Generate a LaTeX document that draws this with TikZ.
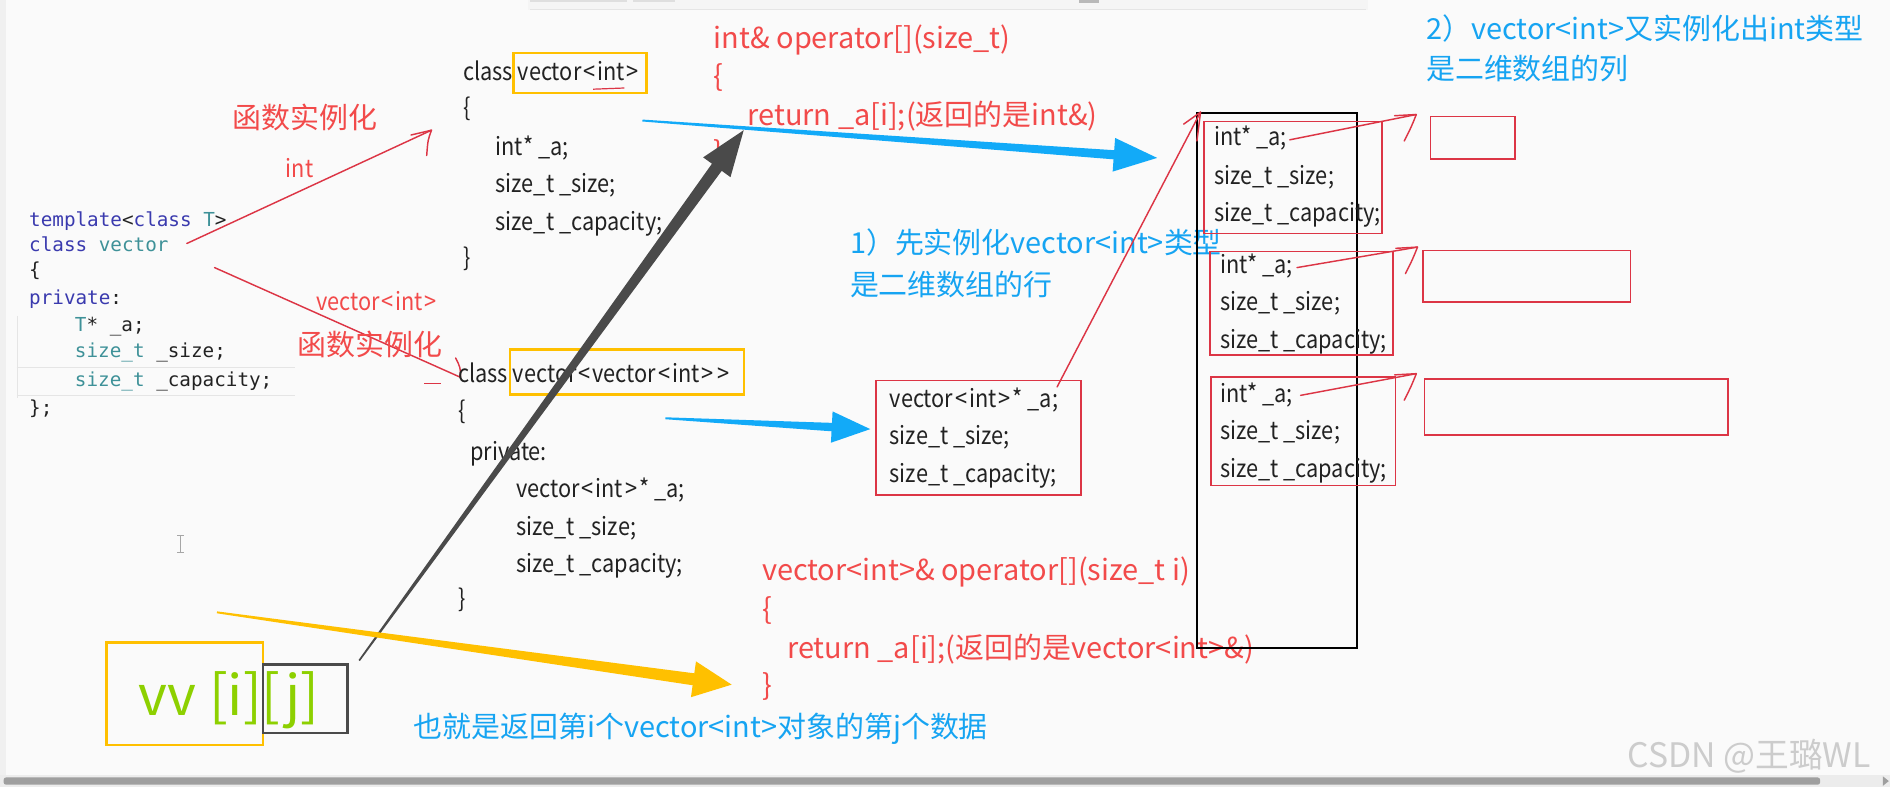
\documentclass[tikz,border=0pt]{standalone}
\usepackage{fontspec}
\setmainfont{Noto Sans CJK SC}
\newfontfamily\monof{DejaVu Sans Mono}
\newfontfamily\condf[FakeStretch=0.88]{Noto Sans CJK SC}
\usetikzlibrary{calc}
\definecolor{bgc}{HTML}{FAFAFA}
\definecolor{redt}{HTML}{F24A4A}
\definecolor{redl}{HTML}{DC3545}
\definecolor{bluet}{HTML}{16A4F2}
\definecolor{bluea}{HTML}{12AAF8}
\definecolor{yel}{HTML}{FFC000}
\definecolor{grn}{HTML}{8DD000}
\definecolor{dgray}{HTML}{4A4A4A}
\definecolor{kw}{HTML}{3A3AAE}
\definecolor{ty}{HTML}{3E9198}
\definecolor{codet}{HTML}{222222}
\newcommand\fcode{\condf\fontsize{20.5}{24}\selectfont}
\newcommand\fred{\fontsize{24}{28}\selectfont}
\newcommand\fmono{\monof\fontsize{16}{20}\selectfont}
\newcommand\lt{\kern1.6pt<\kern1.6pt}
\newcommand\gt{\kern1.6pt>\kern1.6pt}
\newcommand\taperarrow[7]{%
  \coordinate (tmpH) at ($(#2)!#7!(#1)$);
  \fill[#3] ($(#1)!#4!90:(#2)$) -- ($(tmpH)!#5!90:(#2)$) -- ($(tmpH)!#6!90:(#2)$) -- (#2)
    -- ($(tmpH)!#6!-90:(#2)$) -- ($(tmpH)!#5!-90:(#2)$) -- ($(#1)!#4!-90:(#2)$) -- cycle;}
\tikzset{
  tx/.style={inner sep=0pt, anchor=base west},
  code/.style={tx, text=codet, font=\fcode},
  redtxt/.style={tx, text=redt, font=\fred},
  bluetxt/.style={tx, text=bluet, font=\fred},
  mono/.style={tx, font=\fmono},
  rbox/.style={draw=redl, line width=1.4pt, anchor=north west, inner sep=0pt},
  ybox/.style={draw=yel, line width=2.2pt, anchor=north west, inner sep=0pt},
  rline/.style={draw=redl, line width=1.2pt, line cap=round, line join=round},
}
\begin{document}
\begin{tikzpicture}[x=1pt,y=-1pt]
\useasboundingbox (0,0) rectangle (1568,653);
\fill[bgc] (0,0) rectangle (1568,653);
% window chrome
\fill[gray!12] (0,0) rectangle (5,645);
\fill[gray!8] (438,0) rectangle (1135,8);
\draw[gray!20, line width=1pt] (440,8) -- (1133,8);
\fill[gray!25] (440,0) rectangle (520,2);
\fill[gray!25] (525,0) rectangle (560,2);
\fill[gray!55] (895,0) rectangle (912,2.5);
\fill[gray!15] (0,643) rectangle (1568,653);
\fill[gray!75, rounded corners=2pt] (3,645) rectangle (1510,651);
\fill[gray!75] (1562,644) -- (1567,648) -- (1562,652) -- cycle;

% ---------- left template code ----------
\draw[gray!20, line width=0.6pt] (14,305) -- (245,305) (14,328) -- (245,328) (14,262) -- (14,330);
\node[mono] (m1) at (24,188) {\textcolor{kw}{template}\textcolor{codet}{<}\textcolor{kw}{class}\ \textcolor{ty}{T}\textcolor{codet}{>}};
\node[mono] (m2) at (24,209) {\textcolor{kw}{class} \textcolor{ty}{vector}};
\node[mono, text=codet] (m3) at (24,229) {\{};
\node[mono, text=kw] (m4) at (24,253) {private\textcolor{codet}{:}};
\node[mono] (m5) at (62,275) {\textcolor{ty}{T}\textcolor{codet}{* \_a;}};
\node[mono] (m6) at (62,297) {\textcolor{ty}{size\_t} \textcolor{codet}{\_size;}};
\node[mono] (m7) at (62,321) {\textcolor{ty}{size\_t} \textcolor{codet}{\_capacity;}};
\node[mono, text=codet] (m8) at (24,344) {\};};
\coordinate (tplA) at (155,202);
\coordinate (tplB) at (178,222);

% ---------- red instantiation arrows ----------
\coordinate (c1tip) at (358,108);
\coordinate (c2tip) at (382,313);
\draw[rline] (tplA) -- (c1tip);
\draw[rline] ($(c1tip)+(-17,4)$) -- (c1tip) .. controls ($(c1tip)+(-3,8)$) .. ($(c1tip)+(-4,21)$);
\draw[rline] (tplB) -- (c2tip);
\draw[rline] ($(c2tip)+(-4,-16)$) .. controls ($(c2tip)+(0,-8)$) .. (c2tip);
\draw[redl, line width=1.2pt] (352,318) -- (366,318);
\node[redtxt] (lbl1) at (193,107) {函数实例化};
\node[tx, text=redt, font=\fcode] (lint) at (237,147) {int};
\node[tx, text=redt, font=\fcode] (lvec) at (262,258) {vector\lt int\gt};
\node[redtxt] (lbl2) at (247,295) {函数实例化};

% ---------- class vector<int> ----------
\node[code] (a1) at (384,67) {class vector\lt int\gt};
\node[ybox, minimum width=110pt, minimum height=33pt] (yb1) at (425,43) {};
\draw[redl, line width=1pt] (492,74) -- (518,73);
\node[code] (a2) at (384,97) {\{};
\node[code] (a3) at (411,129) {int* \_a;};
\node[code] (a4) at (411,160) {size\_t \_size;};
\node[code] (a5) at (411,191) {size\_t \_capacity;};
\node[code] (a6) at (384,221) {\}};

% ---------- class vector<vector<int>> ----------
\node[code] (b1) at (380,317) {class vector\lt vector\lt int\gt\gt};
\node[ybox, minimum width=194pt, minimum height=37pt] (yb2) at (422,289) {};
\node[code] (b2) at (380,348) {\{};
\node[code] (b3) at (390,382) {private:};
\node[code] (b4) at (428,413) {vector\lt int\gt* \_a;};
\node[code] (b5) at (428,444) {size\_t \_size;};
\node[code] (b6) at (428,475) {size\_t \_capacity;};
\node[code] (b7) at (380,504) {\}};

% ---------- red operator texts ----------
\node[redtxt] (o1) at (592,40) {int\& operator[](size\_t)};
\node[redtxt] (o2) at (592,72) {\{};
\node[redtxt] (o3) at (620,104) {return \_a[i];(返回的是int\&)};
\node[redtxt] (o4) at (592,135) {\}};

\node[redtxt] (p1) at (632,482) {vector<int>\& operator[](size\_t i)};
\node[redtxt] (p2) at (632,514) {\{};
\node[redtxt] (p3) at (653,546) {return \_a[i];(返回的是vector<int>\&)};
\node[redtxt] (p4) at (632,577) {\}};

% ---------- blue notes ----------
\node[bluetxt] (n1) at (705,210) {1）先实例化vector<int>类型};
\node[bluetxt] (n2) at (705,245) {是二维数组的行};
\node[bluetxt] (n3) at (1183,33) {2）vector<int>又实例化出int类型};
\node[bluetxt] (n4) at (1183,66) {是二维数组的列};
\node[bluetxt] (n5) at (343,612) {也就是返回第i个vector<int>对象的第j个数据};

% ---------- vector<int>* box ----------
\node[rbox, minimum width=170pt, minimum height=95pt] (vbox) at (726,315) {};
\node[code] (v1) at (738,338) {vector\lt int\gt* \_a;};
\node[code] (v2) at (738,369) {size\_t \_size;};
\node[code] (v3) at (738,400) {size\_t \_capacity;};

% ---------- big column and rows ----------
\node[draw=black, line width=1.6pt, anchor=north west, inner sep=0pt, minimum width=133pt, minimum height=444pt] (big) at (992,93) {};
\node[rbox, minimum width=148pt, minimum height=93pt] (r1) at (998,100) {};
\node[rbox, minimum width=152pt, minimum height=86pt] (r2) at (1003,208) {};
\node[rbox, minimum width=153pt, minimum height=90pt] (r3) at (1004,312) {};
\node[code] (r1a) at (1007,121) {int* \_a;};
\node[code] (r1b) at (1007,153) {size\_t \_size;};
\node[code] (r1c) at (1007,184) {size\_t \_capacity;};
\node[code] (r2a) at (1012,227) {int* \_a;};
\node[code] (r2b) at (1012,258) {size\_t \_size;};
\node[code] (r2c) at (1012,289) {size\_t \_capacity;};
\node[code] (r3a) at (1012,334) {int* \_a;};
\node[code] (r3b) at (1012,365) {size\_t \_size;};
\node[code] (r3c) at (1012,396) {size\_t \_capacity;};

% column boxes
\node[rbox, minimum width=70pt, minimum height=35pt] (s1) at (1186,96) {};
\node[rbox, minimum width=172pt, minimum height=43pt] (s2) at (1180,207) {};
\node[rbox, minimum width=252pt, minimum height=46pt] (s3) at (1181,314) {};

% red pointer lines
\coordinate (vA) at (877,321);
\coordinate (bigtip) at (996,93);
\draw[rline] (vA) -- (bigtip);
\draw[rline] ($(bigtip)+(-14,10)$) -- (bigtip) -- ($(bigtip)+(-3,24)$);
\coordinate (q1) at (1070,116);
\coordinate (q1t) at (1175,95);
\coordinate (q2) at (1076,222);
\coordinate (q2t) at (1176,205);
\coordinate (q3) at (1079,328);
\coordinate (q3t) at (1175,310);
\foreach \a/\b in {q1/q1t,q2/q2t,q3/q3t}{
  \draw[rline] (\a) -- (\b);
  \draw[rline] ($(\b)+(-18,1)$) -- (\b) .. controls ($(\b)+(-4,10)$) .. ($(\b)+(-10,22)$);
}

% ---------- vv [i][j] ----------
\node[ybox, minimum width=130pt, minimum height=85pt] (vvbox) at (87,532) {};
\node[draw=dgray, line width=2.2pt, anchor=north west, inner sep=0pt, minimum width=70pt, minimum height=57pt] (jbox) at (217,550) {};
\node[tx, text=grn, font=\fontsize{46}{50}\selectfont] (vv) at (115,594) {vv [i][j]};

% ---------- big tapered arrows ----------
\coordinate (dA) at (298,548);
\coordinate (dB) at (617,108);
\taperarrow{dA}{dB}{dgray}{0.7pt}{5pt}{14pt}{38pt}
\coordinate (bA) at (533,100);
\coordinate (bB) at (960,131);
\taperarrow{bA}{bB}{bluea}{0.8pt}{3.8pt}{14pt}{36pt}
\coordinate (cA) at (552,347);
\coordinate (cB) at (722,356);
\taperarrow{cA}{cB}{bluea}{0.8pt}{3.5pt}{13pt}{32pt}
\coordinate (yA) at (180,508);
\coordinate (yB) at (607,568);
\taperarrow{yA}{yB}{yel}{0.8pt}{5pt}{15pt}{32pt}

% cursor
\draw[gray!70, line width=0.8pt] (150,444) -- (150,458) (147,444) -- (153,444) (147,458) -- (153,458);

% watermark
\node[tx, text=gray!40, font=\fontsize{28}{30}\selectfont] (wm) at (1350,637) {CSDN @王璐WL};
\end{tikzpicture}
\end{document}
